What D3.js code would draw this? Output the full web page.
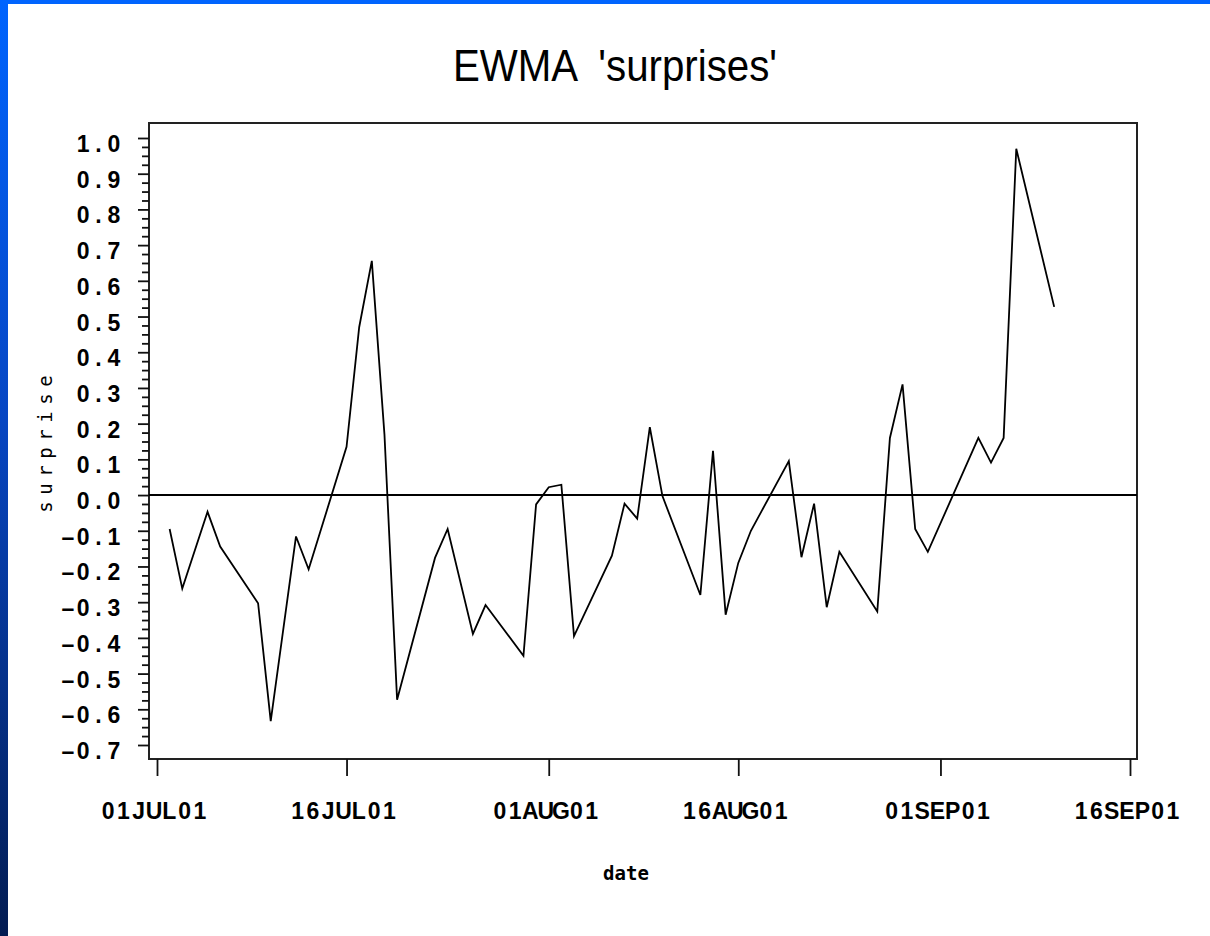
<!DOCTYPE html>
<html>
<head>
<meta charset="utf-8">
<script src="https://cdn.jsdelivr.net/npm/d3@7"></script>
<style>
  html, body { margin: 0; padding: 0; background: #fff; }
  svg { display: block; }
</style>
</head>
<body>
<svg id="chart" width="1210" height="936"></svg>
<script>
// ---------- data ----------
const dates = [
  "2001-07-02","2001-07-03","2001-07-05","2001-07-06","2001-07-09","2001-07-10",
  "2001-07-12","2001-07-13","2001-07-16","2001-07-17","2001-07-18","2001-07-19",
  "2001-07-20","2001-07-23","2001-07-24","2001-07-26","2001-07-27","2001-07-30",
  "2001-07-31","2001-08-01","2001-08-02","2001-08-03","2001-08-06","2001-08-07",
  "2001-08-08","2001-08-09","2001-08-10","2001-08-13","2001-08-14","2001-08-15",
  "2001-08-16","2001-08-17","2001-08-20","2001-08-21","2001-08-22","2001-08-23",
  "2001-08-24","2001-08-27","2001-08-28","2001-08-29","2001-08-30","2001-08-31",
  "2001-09-04","2001-09-05","2001-09-06","2001-09-07","2001-09-10"
];
const surprise = [
  -0.095, -0.262, -0.047, -0.144, -0.303, -0.633,
  -0.116, -0.208, 0.135, 0.47, 0.656, 0.17,
  -0.573, -0.176, -0.095, -0.389, -0.308, -0.45,
  -0.026, 0.022, 0.029, -0.395, -0.17, -0.024,
  -0.066, 0.19, -0.003, -0.28, 0.124, -0.335,
  -0.19, -0.10, 0.095, -0.174, -0.024, -0.314,
  -0.159, -0.326, 0.16, 0.31, -0.095, -0.159,
  0.16, 0.091, 0.16, 0.97, 0.527
];
const xTickDates = ["2001-07-01","2001-07-16","2001-08-01","2001-08-16","2001-09-01","2001-09-16"];
const xTickLabels = ["01JUL01","16JUL01","01AUG01","16AUG01","01SEP01","16SEP01"];
const yTickValues = [-0.7,-0.6,-0.5,-0.4,-0.3,-0.2,-0.1,0.0,0.1,0.2,0.3,0.4,0.5,0.6,0.7,0.8,0.9,1.0];
const yTickLabels = ["-0.7","-0.6","-0.5","-0.4","-0.3","-0.2","-0.1","0.0","0.1","0.2","0.3","0.4","0.5","0.6","0.7","0.8","0.9","1.0"];
const refValue = 0;
const titleText = "EWMA  'surprises'";
const xLabel = "date";
const yLabel = "surprise";

// ---------- setup ----------
const parse = d3.utcParse("%Y-%m-%d");
const data = dates.map((d, i) => ({ date: parse(d), value: surprise[i] }));

const svg = d3.select("#chart");
const W = 1210, H = 936;

// background + blue frame strips
const defs = svg.append("defs");
const lg = defs.append("linearGradient").attr("id", "leftGrad")
  .attr("x1", 0).attr("y1", 0).attr("x2", 0).attr("y2", 1);
lg.append("stop").attr("offset", 0).attr("stop-color", "#0064fe");
lg.append("stop").attr("offset", 0.45).attr("stop-color", "#0746c2");
lg.append("stop").attr("offset", 1).attr("stop-color", "#031c52");

svg.append("rect").attr("width", W).attr("height", H).attr("fill", "#ffffff");
svg.append("rect").attr("x", 0).attr("y", 0).attr("width", 8).attr("height", H).attr("fill", "url(#leftGrad)");
svg.append("rect").attr("x", 0).attr("y", 0).attr("width", W).attr("height", 4).attr("fill", "#0064fe");

// scales
const x = d3.scaleUtc()
  .domain([parse(xTickDates[0]), parse(xTickDates[xTickDates.length - 1])])
  .range([157, 1130]);
const y = d3.scaleLinear().domain([-0.7, 1.0]).range([745, 138]);

const frame = { left: 149, right: 1137, top: 123, bottom: 759 };

// frame
svg.append("rect")
  .attr("x", frame.left).attr("y", frame.top)
  .attr("width", frame.right - frame.left).attr("height", frame.bottom - frame.top)
  .attr("fill", "none").attr("stroke", "#222").attr("stroke-width", 2);

// y axis major & minor ticks
const minorVals = [];
for (let i = 0; i < yTickValues.length - 1; i++) {
  const a = yTickValues[i], b = yTickValues[i + 1];
  for (let k = 1; k < 4; k++) minorVals.push(a + (b - a) * k / 4);
}
const yMajor = svg.append("g").attr("transform", `translate(${frame.left},0)`)
  .call(d3.axisLeft(y).tickValues(yTickValues).tickSize(11).tickFormat(""));
const yMinor = svg.append("g").attr("transform", `translate(${frame.left},0)`)
  .call(d3.axisLeft(y).tickValues(minorVals).tickSize(7).tickFormat(""));
[yMajor, yMinor].forEach(g => {
  g.select(".domain").remove();
  g.selectAll(".tick line").attr("stroke", "#111").attr("stroke-width", 1.8);
});

// x axis ticks
const xAxisG = svg.append("g").attr("transform", `translate(0,${frame.bottom})`)
  .call(d3.axisBottom(x).tickValues(xTickDates.map(parse)).tickSize(17).tickFormat(""));
xAxisG.select(".domain").remove();
xAxisG.selectAll(".tick line").attr("stroke", "#111").attr("stroke-width", 1.8);

// monospace-cell text helper
const CELL = 15.3;
function cellText(g, str, cx, baseY, opts) {
  const n = str.length;
  const xs = [];
  const start = opts.anchor === "end" ? cx - (n - 0.5) * CELL : cx - (n - 1) * CELL / 2;
  for (let i = 0; i < n; i++) xs.push((start + i * CELL).toFixed(2));
  return g.append("text")
    .attr("x", xs.join(" "))
    .attr("y", baseY)
    .attr("text-anchor", "middle")
    .attr("font-family", "'Liberation Sans', Arial, sans-serif")
    .attr("font-weight", "bold")
    .attr("font-size", opts.size || 23)
    .attr("fill", "#000")
    .text(str.replace(/-/g, "\u2013"));
}

// y tick labels
const yLabG = svg.append("g");
yTickValues.forEach((v, i) => {
  cellText(yLabG, yTickLabels[i], 121.5, y(v) + 14, { anchor: "end" });
});

// x tick labels
const xLabG = svg.append("g");
xTickDates.forEach((d, i) => {
  cellText(xLabG, xTickLabels[i], x(parse(d)) - 3, 819, { anchor: "middle" });
});

// reference line at 0
svg.append("line")
  .attr("x1", frame.left).attr("x2", frame.right)
  .attr("y1", y(refValue)).attr("y2", y(refValue))
  .attr("stroke", "#000").attr("stroke-width", 2);

// data line
const line = d3.line().x(d => x(d.date)).y(d => y(d.value));
svg.append("path").datum(data)
  .attr("d", line)
  .attr("fill", "none").attr("stroke", "#000").attr("stroke-width", 1.8)
  .attr("stroke-linejoin", "miter");

// title
svg.append("text")
  .attr("x", 615).attr("y", 81)
  .attr("text-anchor", "middle")
  .attr("font-family", "'Liberation Sans', Arial, sans-serif")
  .attr("font-size", 45)
  .attr("fill", "#000")
  .attr("textLength", 324).attr("lengthAdjust", "spacingAndGlyphs")
  .style("white-space", "pre")
  .text(titleText);

// x label
svg.append("text")
  .attr("x", 626).attr("y", 880)
  .attr("text-anchor", "middle")
  .attr("font-family", "'DejaVu Sans Mono', monospace")
  .attr("font-weight", "bold")
  .attr("font-size", 19)
  .attr("fill", "#000")
  .text(xLabel);

// y label (rotated, spaced)
const yl = svg.append("g").attr("transform", "translate(52,444) rotate(-90)");
const yCell = 18;
const ylx = [];
for (let i = 0; i < yLabel.length; i++) ylx.push(((i - (yLabel.length - 1) / 2) * yCell).toFixed(2));
yl.append("text")
  .attr("x", ylx.join(" ")).attr("y", 0)
  .attr("text-anchor", "middle")
  .attr("font-family", "'DejaVu Sans Mono', monospace")
  .attr("font-size", 19)
  .attr("fill", "#000")
  .text(yLabel);
</script>
</body>
</html>
